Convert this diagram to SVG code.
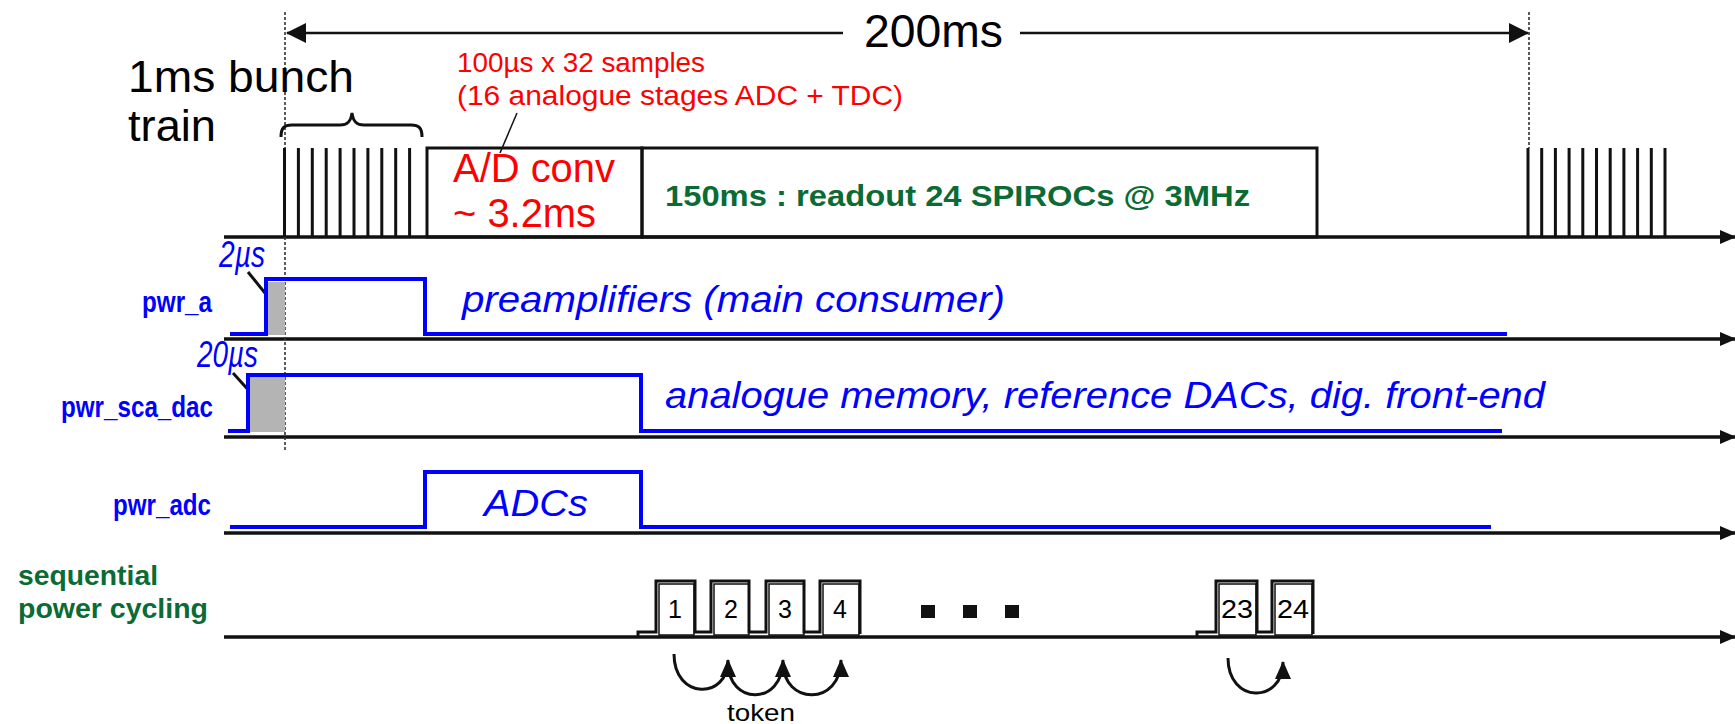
<svg xmlns="http://www.w3.org/2000/svg" width="1735" height="724" viewBox="0 0 1735 724">
<defs>
<marker id="ax" markerUnits="userSpaceOnUse" markerWidth="16" markerHeight="16" refX="15" refY="8" orient="auto"><path d="M0,1 L16,8 L0,15 z" fill="#111"/></marker>
<marker id="big" markerUnits="userSpaceOnUse" markerWidth="20" markerHeight="22" refX="19" refY="11" orient="auto-start-reverse"><path d="M0,1 L20,11 L0,21 z" fill="#111"/></marker>
<marker id="tok" markerUnits="userSpaceOnUse" markerWidth="18" markerHeight="18" refX="17" refY="9" orient="auto"><path d="M0,1 L18,9 L0,17 z" fill="#111"/></marker>
<style>
.axis{stroke:#111;stroke-width:3.5;fill:none;marker-end:url(#ax)}
.blk{stroke:#111;stroke-width:3;fill:none}
.thin{stroke:#111;stroke-width:1.5;fill:none}
.sig{stroke:#0000ff;stroke-width:4;fill:none}
.dash{stroke:#333;stroke-width:1.6;stroke-dasharray:3 2;fill:none}
.gray{fill:#b4b4b4;stroke:none}
.lbl{font-family:"Liberation Sans",Arial,sans-serif;font-weight:bold;fill:#0000ff;font-size:30px;text-anchor:end}
.it{font-family:"Liberation Sans",Arial,sans-serif;font-style:italic;fill:#0000ff;font-size:37px}
.red{font-family:"Liberation Sans",Arial,sans-serif;fill:#ff0000}
.grn{font-family:"Liberation Sans",Arial,sans-serif;font-weight:bold;fill:#0b6b35}
.k{font-family:"Liberation Sans",Arial,sans-serif;fill:#000}
.num{font-family:"Liberation Sans",Arial,sans-serif;fill:#000;font-size:25px;text-anchor:middle}
</style>
</defs>

<g id="connectors">
<line class="axis" x1="224" y1="237" x2="1735" y2="237"/>
<line class="axis" x1="224" y1="339" x2="1735" y2="339"/>
<line class="axis" x1="224" y1="437" x2="1735" y2="437"/>
<line class="axis" x1="224" y1="533" x2="1735" y2="533"/>
<line class="axis" x1="224" y1="637" x2="1735" y2="637"/>
<line class="dash" x1="285" y1="12" x2="285" y2="452"/>
<line class="dash" x1="1529" y1="12" x2="1529" y2="148"/>
<line stroke="#111" stroke-width="2.5" x1="843" y1="33" x2="287" y2="33" marker-end="url(#big)"/>
<line stroke="#111" stroke-width="2.5" x1="1020" y1="33" x2="1528" y2="33" marker-end="url(#big)"/>
<line class="thin" stroke-width="2" x1="517" y1="113" x2="500" y2="153"/>
<line class="blk" x1="248" y1="272" x2="277" y2="308"/>
<line class="blk" x1="233" y1="373" x2="271" y2="415"/>
<path class="blk" stroke-width="2" d="M674 654 C674 700 728 700 728 660" marker-end="url(#tok)"/>
<path class="blk" stroke-width="2" d="M728 662 C728 706 783 706 783 660" marker-end="url(#tok)"/>
<path class="blk" stroke-width="2" d="M783 662 C783 706 841 706 841 660" marker-end="url(#tok)"/>
<path class="blk" stroke-width="2" d="M1228 658 C1228 704 1283 704 1283 662" marker-end="url(#tok)"/>
</g>

<g id="title">
<text class="k" x="128" y="92" font-size="45" textLength="226" lengthAdjust="spacingAndGlyphs">1ms bunch</text>
<text class="k" x="128" y="141" font-size="45" textLength="88" lengthAdjust="spacingAndGlyphs">train</text>
<text class="k" x="864" y="47" font-size="46" textLength="139" lengthAdjust="spacingAndGlyphs">200ms</text>
</g>

<g id="bunch-train-1">
<path class="blk" d="M281 137 C281 128 284 125 292 125 H340 C348 125 351 121 352 113 C353 121 356 125 364 125 H411 C419 125 422 128 422 137"/>
<path class="blk" d="M284.5 237V148 M298.4 237V148 M312.3 237V148 M326.2 237V148 M340.1 237V148 M354 237V148 M367.9 237V148 M381.8 237V148 M395.7 237V148 M409.6 237V148"/>
</g>

<g id="ad-conv">
<rect class="blk" x="427" y="148" width="215" height="89"/>
<text class="red" x="457" y="72" font-size="27" textLength="248" lengthAdjust="spacingAndGlyphs">100µs x 32 samples</text>
<text class="red" x="457" y="105" font-size="27" textLength="446" lengthAdjust="spacingAndGlyphs">(16 analogue stages  ADC + TDC)</text>
<text class="red" x="453" y="182" font-size="40" textLength="162" lengthAdjust="spacingAndGlyphs">A/D conv</text>
<text class="red" x="453" y="227" font-size="40" textLength="143" lengthAdjust="spacingAndGlyphs">~ 3.2ms</text>
</g>

<g id="readout">
<rect class="blk" x="642" y="148" width="675" height="89"/>
<text class="grn" x="665" y="206" font-size="30" textLength="585" lengthAdjust="spacingAndGlyphs">150ms : readout 24 SPIROCs @ 3MHz</text>
</g>

<g id="bunch-train-2">
<path class="blk" d="M1528 237V148 M1541.7 237V148 M1555.4 237V148 M1569.1 237V148 M1582.8 237V148 M1596.5 237V148 M1610.2 237V148 M1623.9 237V148 M1637.6 237V148 M1651.3 237V148 M1665 237V148"/>
</g>

<g id="pwr_a">
<text class="lbl" x="212" y="312" textLength="70" lengthAdjust="spacingAndGlyphs">pwr_a</text>
<rect class="gray" x="266" y="282" width="19" height="53"/>
<path class="sig" d="M230 334 H266 V279 H425 V334 H1507"/>
<text class="it" x="219" y="267" font-size="26" textLength="46" lengthAdjust="spacingAndGlyphs">2µs</text>
<text class="it" x="462" y="312" textLength="543" lengthAdjust="spacingAndGlyphs">preamplifiers (main consumer)</text>
</g>

<g id="pwr_sca_dac">
<text class="lbl" x="213" y="417" textLength="152" lengthAdjust="spacingAndGlyphs">pwr_sca_dac</text>
<rect class="gray" x="250" y="377" width="35" height="55"/>
<path class="sig" d="M228 431 H248 V375 H641 V431 H1502"/>
<text class="it" x="197" y="367" font-size="26" textLength="61" lengthAdjust="spacingAndGlyphs">20µs</text>
<text class="it" x="665" y="408" textLength="880" lengthAdjust="spacingAndGlyphs">analogue memory, reference DACs, dig. front-end</text>
</g>

<g id="pwr_adc">
<text class="lbl" x="211" y="515" textLength="98" lengthAdjust="spacingAndGlyphs">pwr_adc</text>
<path class="sig" d="M230 527 H425 V472 H641 V527 H1491"/>
<text class="it" x="484" y="516" textLength="104" lengthAdjust="spacingAndGlyphs">ADCs</text>
</g>

<g id="sequential">
<text class="grn" x="18" y="585" font-size="27" textLength="140" lengthAdjust="spacingAndGlyphs">sequential</text>
<text class="grn" x="18" y="618" font-size="27" textLength="190" lengthAdjust="spacingAndGlyphs">power cycling</text>
<path class="blk" stroke-width="3.5" d="M638 636 V632 H656 V581 H695 V632 H711 V581 H749 V632 H766 V581 H804 V632 H820 V581 H860 V634"/>
<rect class="thin" x="659" y="584" width="35" height="51"/>
<rect class="thin" x="714" y="584" width="35" height="51"/>
<rect class="thin" x="769" y="584" width="35" height="51"/>
<rect class="thin" x="823" y="584" width="36" height="51"/>
<text class="num" x="675" y="618">1</text>
<text class="num" x="731" y="618">2</text>
<text class="num" x="785" y="618">3</text>
<text class="num" x="840" y="618">4</text>
<rect x="921" y="605" width="14" height="13" fill="#111"/>
<rect x="963" y="605" width="14" height="13" fill="#111"/>
<rect x="1005" y="605" width="14" height="13" fill="#111"/>
<path class="blk" stroke-width="3.5" d="M1197 636 V632 H1216 V581 H1257 V632 H1272 V581 H1313 V634"/>
<rect class="thin" x="1219" y="584" width="37" height="51"/>
<rect class="thin" x="1275" y="584" width="37" height="51"/>
<text class="num" x="1237" y="618" textLength="32" lengthAdjust="spacingAndGlyphs">23</text>
<text class="num" x="1293" y="618" textLength="32" lengthAdjust="spacingAndGlyphs">24</text>
<text class="k" x="727" y="721" font-size="24" textLength="68" lengthAdjust="spacingAndGlyphs">token</text>
</g>
</svg>
